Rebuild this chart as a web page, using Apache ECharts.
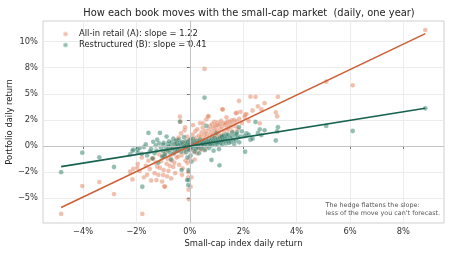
<!DOCTYPE html>
<html>
<head>
<meta charset="utf-8">
<script src="https://cdn.jsdelivr.net/npm/echarts@6/dist/echarts.min.js"></script>
<style>
  html, body { margin: 0; padding: 0; background: #fff; }
  #chart { width: 452px; height: 255px; }
</style>
</head>
<body>
<div id="chart"></div>
<script>
// daily returns in %, one entry per trading day
const marketRet = [
  -4.82, -4.03, -3.39, -2.84, -2.24, -2.15, -2.12, -1.97, -1.78, -0.96, -0.05, -0.04, -0.06,
  0.55, -0.37, 8.82, 6.10, 5.11, 3.30, 3.22, 3.27, 2.46, 2.27, 2.68, 2.07, 1.84, 1.90, 1.76,
  1.22, 1.37, 2.62, 2.12,
  -1.95, -1.88, -1.80, -1.72, -1.65, -1.60, -1.55, -1.50, -1.45, -1.40, -1.37, -1.32, -1.28,
  -1.25, -1.22, -1.18, -1.15, -1.12, -1.08, -1.04, -1.00, -1.00, -0.98, -0.93,
  -0.90, -0.87, -0.85, -0.82, -0.80, -0.78, -0.75, -0.72, -0.70, -0.68, -0.65, -0.62, -0.60,
  -0.58, -0.55, -0.53, -0.50, -0.50,
  -0.47, -0.44, -0.42, -0.40, -0.38, -0.35, -0.33, -0.31, -0.29, -0.27, -0.25, -0.22, -0.20,
  -0.18, -0.16, -0.14, -0.12, -0.10, -0.09, -0.08, -0.06, -0.04, -0.02, -0.01,
  0.01, 0.03, 0.04, 0.06, 0.08, 0.10, 0.12, 0.14, 0.16, 0.18, 0.20, 0.22, 0.24, 0.26, 0.28,
  0.30, 0.32, 0.34, 0.36, 0.38, 0.40, 0.42, 0.44, 0.46, 0.48, 0.50,
  0.52, 0.54, 0.56, 0.58, 0.60, 0.62, 0.64, 0.66, 0.68, 0.70, 0.72, 0.74, 0.76, 0.78, 0.80,
  0.81, 0.83, 0.85, 0.87, 0.89, 0.91, 0.93, 0.95, 0.97, 0.99,
  1.01, 1.03, 1.05, 1.07, 1.09, 1.11, 1.13, 1.15, 1.17, 1.19, 1.21, 1.23, 1.26, 1.29, 1.32,
  1.35, 1.38, 1.41, 1.44, 1.47,
  1.50, 1.53, 1.56, 1.59, 1.62, 1.66, 1.70, 1.72, 1.75, 1.80, 1.85, 1.95,
  2.05, 2.20, 2.35, 2.55, 2.80
];
const retailRet = [
  -6.50, -3.83, -3.45, -4.60, -2.46, -3.20, -2.20, -2.07, -6.50, -3.86, -4.18, -5.10, -3.00,
  7.38, 2.81, 11.10, 5.81, 6.16, 4.70, 3.22, 2.84, 4.70, 4.72, 3.50, 3.00, 4.31, 3.26, 3.19,
  3.50, 2.75, 2.17, 3.06,
  -1.70, -2.40, -1.10, -3.00, -1.90, -2.75, -1.40, -2.20, -3.30, -1.20, -1.18, -2.60, -1.60,
  -3.26, -1.98, -2.76, -0.80, -2.10, -1.45, -3.40, -2.78, -1.00, -2.30, -3.90,
  -0.60, -1.70, -2.90, -1.25, -2.37, -0.40, -1.90, -0.95, -3.10, -1.40, -0.20, -2.00, -0.70,
  -1.60, -2.60, 0.10, 0.57, -1.10,
  -0.50, -1.02, 0.80, -1.80, -0.25, 2.33, 1.20, -0.90, -2.76, -2.14, 0.30, -0.60, 1.50,
  1.79, -1.40, 0.00, -0.35, 0.90, -1.60, 0.40, -2.50, -0.10, 0.60, -1.20,
  -0.30, -3.90, 0.70, -3.00, 0.20, 1.10, 2.00, -0.50, 0.50, -1.30, 1.40, 0.10, 0.80, -0.70, 1.60,
  0.30, -0.20, 1.00, 0.55, 2.20, -0.40, 0.90, 1.30, 0.15, 1.75, 2.17,
  0.60, 1.10, -0.30, 1.45, 0.85, 2.56, 1.20, 0.40, 2.81, 2.87, 1.60, 0.95, 1.90, 0.30, 1.30,
  0.40, 2.10, 1.05, 1.70, 0.70, 2.30, 1.40, 1.85, 0.95, 2.00,
  1.50, 2.25, 0.80, 1.95, 1.20, 0.90, 2.10, 1.60, 2.40, 1.00, 1.85, 3.50, 2.20, 1.35, 2.05,
  2.17, 1.70, 2.35, 1.55, 2.00,
  2.30, 1.80, 2.45, 1.40, 2.15, 2.50, 1.90, 3.13, 2.35, 1.60, 2.60, 2.20,
  2.80, 2.40, 3.40, 3.80, 4.10
];
const restructRet = [
  -2.50, -0.64, -1.08, -2.01, -0.80, -0.48, -0.35, -0.32, -3.90, -1.00, -2.30, -3.26, -3.74,
  4.63, 2.33, 3.61, 1.44, 1.92, 1.80, 0.53, 1.40, 2.30, 0.60, 1.05, -0.55, 1.80, 0.90, 1.30,
  0.85, 1.10, 1.60, 1.20,
  -0.60, -0.20, -0.75, -0.10, 0.15, -0.90, 1.25, -0.54, -0.30, -1.20, 0.40, -0.70, 0.05,
  -0.45, 0.60, -1.60, 0.25, 1.25, -0.20, -1.02, 0.10, -0.50, 0.30, -0.80,
  -0.15, 0.90, -0.40, 0.20, -0.05, 0.45, -0.60, 0.00, -1.30, 0.35, -0.25, 0.70, -0.70,
  0.15, -0.35, 0.50, -0.10, 0.25,
  -0.45, 0.05, 0.60, -0.20, 0.30, 0.10, -0.55, -2.30, 0.40, -0.15, 0.20, 0.85, -0.30,
  0.00, 0.45, -0.60, 0.15, -3.26, -1.10, 0.35, -0.25, 0.10, -0.40, 0.55,
  0.20, -0.90, -0.10, -1.50, 0.40, -0.20, 0.70, 0.05, 0.30, -0.55, 0.20, -0.30, 0.50, 0.15, -0.15,
  0.35, 0.00, -0.70, 0.25, 0.60, 0.10, -0.25, 0.40, 0.20, -0.05, 0.30,
  0.10, 0.55, -0.40, 0.20, 0.35, 1.92, 0.00, 0.45, 0.25, 0.60, -0.20, 0.30, 0.15, 0.50, 0.05,
  -1.34, 0.70, 0.25, 0.45, -0.45, 0.35, 0.80, 0.10, 0.55, 1.22,
  0.40, 0.20, 0.65, 0.35, -0.30, -1.85, 0.75, 0.30, 0.50, 0.90, 0.15, 0.60, 1.00, 0.45, 0.70,
  0.25, 0.85, 0.50, 1.10, 0.30,
  0.75, 0.40, 0.95, 1.30, 0.60, 0.20, 1.00, 0.55, 1.15, 0.80, 0.35, 1.40,
  0.95, 1.10, 0.70, 1.25, 1.50
];

const nameA = 'All-in retail (A): slope = 1.22';
const nameB = 'Restructured (B): slope = 0.41';
const slopeA = 1.22, interceptA = 0.0;
const slopeB = 0.41, interceptB = 0.0;

const xTicks = [-4, -2, 0, 2, 4, 6, 8];
const yTicks = [-5, -2.5, 0, 2.5, 5, 7.5, 10];
const yTickLabels = ['\u22125%', '\u22122%', '0%', '2%', '5%', '8%', '10%'];

const colorA = '#cc6038', dotA = 'rgba(224,128,92,0.62)';
const colorB = '#17624f', dotB = 'rgba(38,120,98,0.62)';
const font = 'DejaVu Sans';

const ptsA = marketRet.map((x, i) => [x, retailRet[i]]);
const ptsB = marketRet.map((x, i) => [x, restructRet[i]]);
const xLo = Math.min(...marketRet), xHi = Math.max(...marketRet);
const fitA = [[xLo, interceptA + slopeA * xLo], [xHi, interceptA + slopeA * xHi]];
const fitB = [[xLo, interceptB + slopeB * xLo], [xHi, interceptB + slopeB * xHi]];

const chart = echarts.init(document.getElementById('chart'), null, { renderer: 'canvas' });
chart.setOption({
  animation: false,
  backgroundColor: '#fff',
  textStyle: { fontFamily: font },
  title: {
    text: 'How each book moves with the small-cap market  (daily, one year)',
    left: 244, top: 3, textAlign: 'center',
    textStyle: { fontFamily: font, fontSize: 9.9, fontWeight: 'normal', color: '#222' }
  },
  legend: {
    data: [nameA, nameB],
    orient: 'vertical',
    left: 57, top: 25,
    icon: 'circle', itemWidth: 5, itemHeight: 5, itemGap: 3,
    textStyle: { fontFamily: font, fontSize: 8.4, color: '#222', padding: [0, 0, 0, 6] }
  },
  grid: {
    left: 43, right: 8, top: 21, bottom: 32,
    containLabel: false, outerBoundsMode: 'none',
    show: true, borderColor: '#cfcfcf', borderWidth: 1, backgroundColor: '#fff'
  },
  xAxis: {
    type: 'value', min: -5.5, max: 9.52,
    name: 'Small-cap index daily return', nameLocation: 'middle', nameGap: 17,
    nameMoveOverlap: false,
    nameTextStyle: { fontFamily: font, fontSize: 8.4, color: '#222' },
    axisLine: { show: false },
    axisTick: { show: true, length: 3, lineStyle: { color: '#777' }, customValues: xTicks },
    axisLabel: {
      customValues: xTicks, margin: 5, fontSize: 8.3, color: '#333', fontFamily: font,
      formatter: v => (v < 0 ? '\u2212' + Math.abs(v) : v) + '%'
    },
    splitLine: { show: true, lineStyle: { color: '#ececec', width: 1 } }
  },
  yAxis: {
    type: 'value', min: -7.37, max: 11.97,
    name: 'Portfolio daily return', nameLocation: 'middle', nameGap: 29, nameRotate: 90,
    nameMoveOverlap: false,
    nameTextStyle: { fontFamily: font, fontSize: 8.4, color: '#222' },
    axisLine: { show: false },
    axisTick: { show: true, length: 3, lineStyle: { color: '#777' }, customValues: yTicks },
    axisLabel: {
      customValues: yTicks, margin: 5, fontSize: 8.3, color: '#333', fontFamily: font,
      formatter: v => yTickLabels[yTicks.indexOf(v)]
    },
    splitLine: { show: true, lineStyle: { color: '#ececec', width: 1 } }
  },
  graphic: [{
    type: 'text', right: 12, top: 201, z: 100,
    style: {
      text: 'The hedge flattens the slope:\nless of the move you can\'t forecast.',
      align: 'right', fontFamily: font, fontSize: 6.4, lineHeight: 8.4, fill: '#555'
    }
  }],
  series: [
    {
      type: 'scatter', data: [], silent: true, z: 1,
      markLine: {
        silent: true, symbol: 'none', label: { show: false },
        lineStyle: { color: '#c4c4c4', width: 1, type: 'solid' },
        data: [{ xAxis: 0 }, { yAxis: 0 }]
      }
    },
    {
      name: nameA, type: 'scatter', data: ptsA, symbolSize: 4.8, z: 3,
      itemStyle: { color: dotA, borderColor: 'rgba(255,255,255,0.5)', borderWidth: 0.4 }
    },
    {
      name: nameB, type: 'scatter', data: ptsB, symbolSize: 4.8, z: 3,
      itemStyle: { color: dotB, borderColor: 'rgba(255,255,255,0.5)', borderWidth: 0.4 }
    },
    {
      type: 'line', data: fitA, showSymbol: false, z: 5,
      lineStyle: { color: colorA, width: 1.6 }
    },
    {
      type: 'line', data: fitB, showSymbol: false, z: 5,
      lineStyle: { color: colorB, width: 1.6 }
    }
  ]
});
</script>
</body>
</html>
